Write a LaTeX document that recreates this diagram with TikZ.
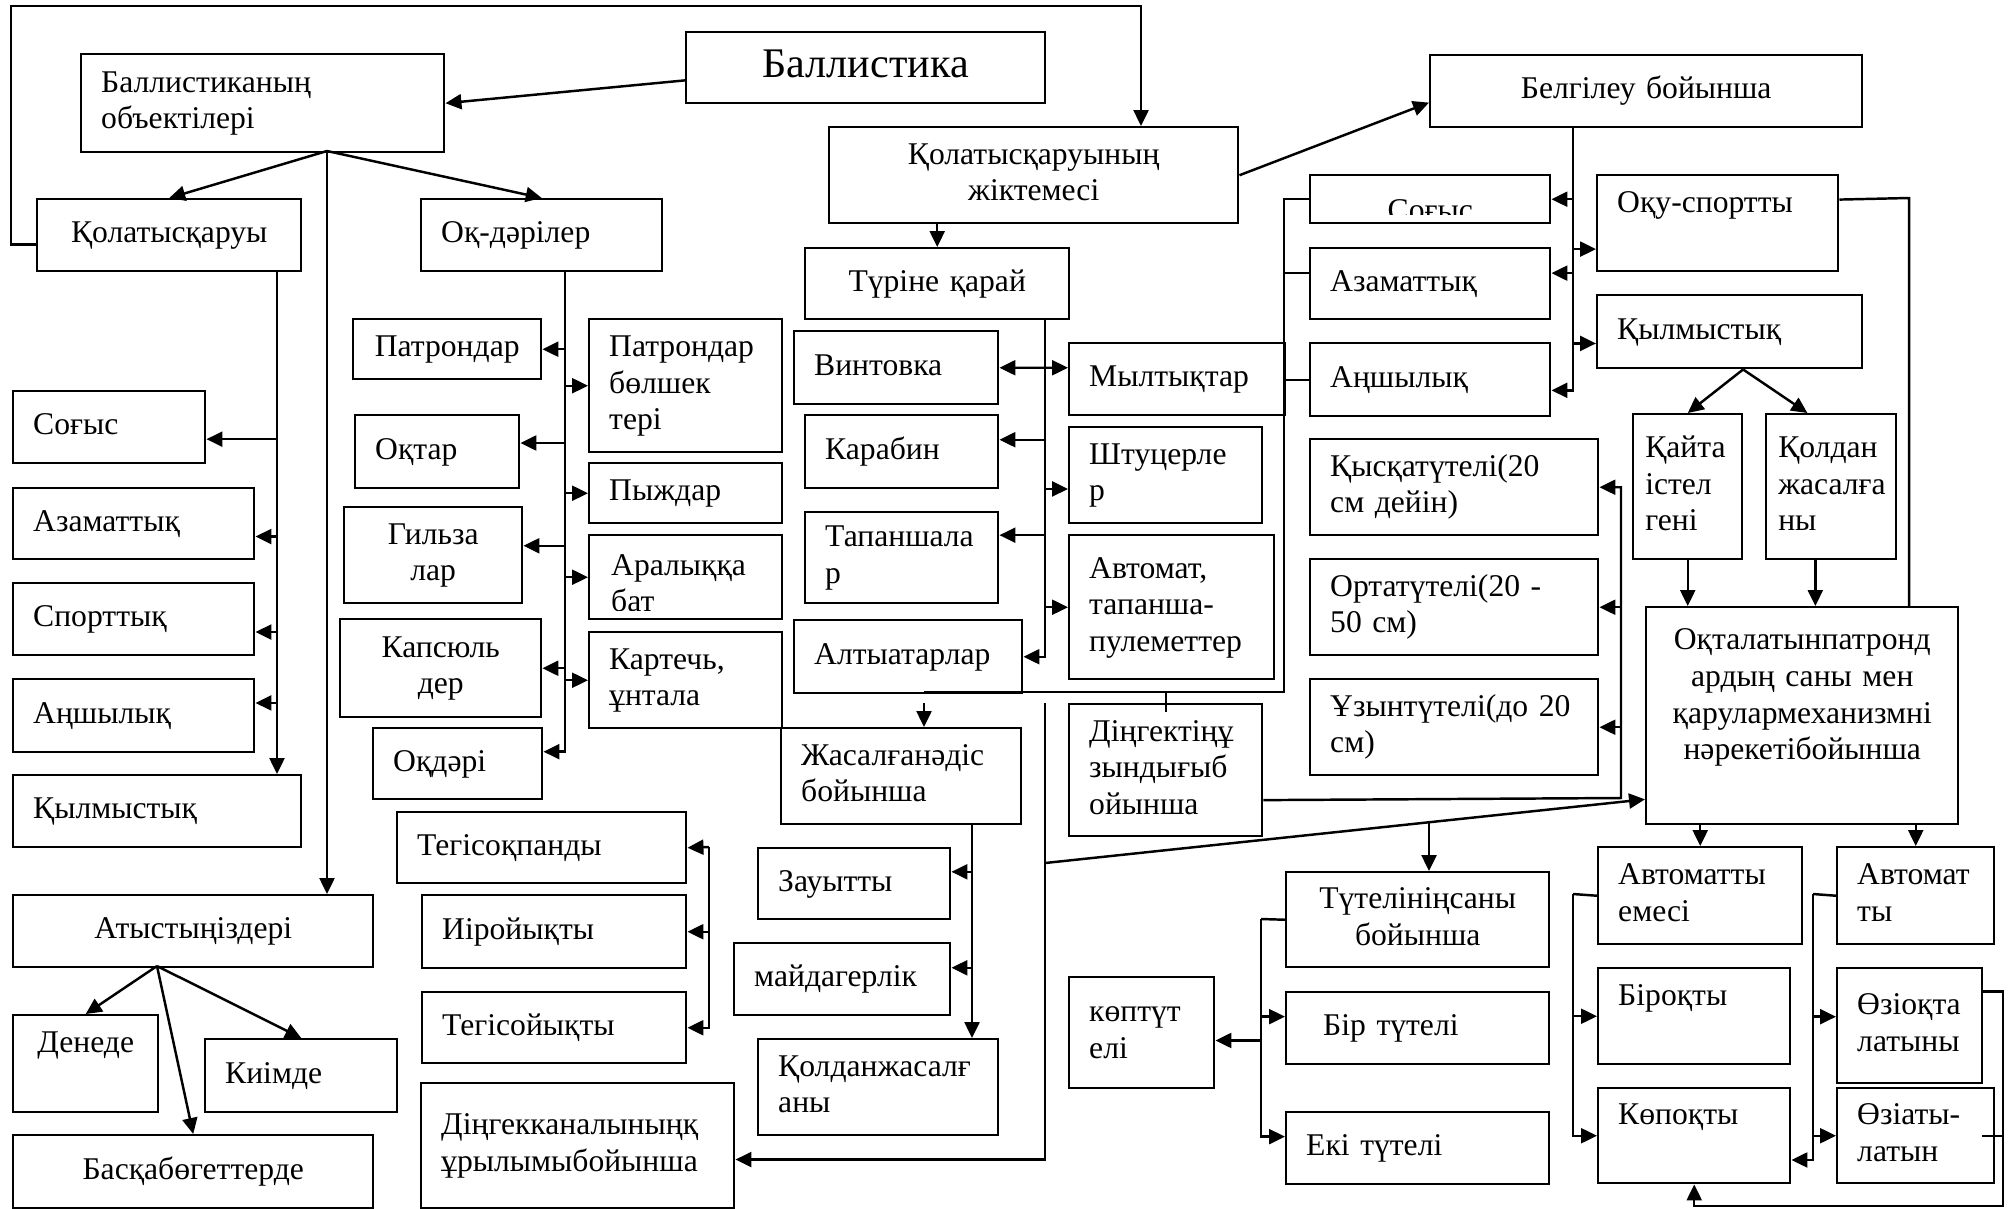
\documentclass[tikz,border=0pt]{standalone}
\usepackage{fontspec}
\setmainfont{Liberation Serif}
\usetikzlibrary{arrows.meta,calc}
\hyphenpenalty=10000
\exhyphenpenalty=10000

\begin{document}
\begin{tikzpicture}[x=0.02cm, y=-0.02cm, line width=1.4pt,
  every node/.style = {font=\fontsize{18}{20.8}\selectfont},
  bx/.style 2 args = {draw, anchor=north west, inner xsep=0.4cm, inner ysep=0pt,
    minimum width=#1*0.02cm, minimum height=#2*0.02cm, text width=#1*0.02cm-0.8cm,
    align=left, execute at begin node=\strut, execute at end node=\strut},
  arr/.style = {-{Triangle[length=0.32cm, width=0.3cm]}},
  darr/.style = {{Triangle[length=0.32cm, width=0.3cm]}-{Triangle[length=0.32cm, width=0.3cm]}}]
  \useasboundingbox (0,0) rectangle (2015,1208);

  % left part
  \node[bx={359}{71}, align=center, font=\fontsize{24}{28}\selectfont] (bal) at (685,31) {Баллистика};
  \node[bx={363}{98}] (obj) at (80,53) {Баллистиканың\\объектілері};
  \node[bx={264}{72}, align=center] (qa) at (36,198) {Қолатысқаруы};
  \node[bx={241}{72}] (oqd) at (420,198) {Оқ-дәрілер};
  \node[bx={192}{72}] (sog1) at (12,390) {Соғыс};
  \node[bx={241}{71}] (aza1) at (12,487) {Азаматтық};
  \node[bx={241}{72}] (spo1) at (12,582) {Спорттық};
  \node[bx={241}{73}] (anh1) at (12,678) {Аңшылық};
  \node[bx={288}{72}] (kyl1) at (12,774) {Қылмыстық};
  \node[bx={360}{72}, align=center] (atys) at (12,894) {Атыстыңіздері};
  \node[bx={145}{97}, align=center] (dene) at (12,1014) {Денеде\\\mbox{}};
  \node[bx={192}{73}] (kiim) at (204,1038) {Киімде};
  \node[bx={360}{73}, align=center] (bask) at (12,1134) {Басқабөгеттерде};

  \node[bx={188}{60}, align=center] (patr) at (352,318) {Патрондар};
  \node[bx={193}{133}] (pbol) at (588,318) {Патрондар\\бөлшек\\тері};
  \node[bx={164}{73}] (oqt) at (354,414) {Оқтар};
  \node[bx={193}{60}] (pyzh) at (588,462) {Пыждар};
  \node[bx={178}{96}, align=center] (gil) at (343,506) {Гильза\\лар};
  \node[bx={193}{84}] (arb) at (588,534) {};
  \begin{scope}
    \clip (arb.north west) rectangle ([yshift=0.2cm]arb.south east);
    \node[anchor=base west, inner sep=0pt, text width=3cm, align=left] (arbt)
      at ([xshift=0.44cm, yshift=-0.82cm]arb.north west) {Аралыққа\\бат};
  \end{scope}
  \node[bx={201}{98}, align=center] (kap) at (339,618) {Капсюль\\дер};
  \node[bx={193}{96}] (kart) at (588,631) {Картечь,\\ұнтала};
  \node[bx={169}{71}] (oqdari) at (372,727) {Оқдәрі};

  % middle part
  \node[bx={409}{96}, align=center] (zhik) at (828,126) {Қолатысқаруының\\жіктемесі};
  \node[bx={264}{71}, align=center] (tur) at (804,247) {Түріне қарай};
  \node[bx={204}{73}] (vin) at (793,330) {Винтовка};
  \node[bx={193}{73}] (kar) at (804,414) {Карабин};
  \node[bx={193}{91}] (tap) at (804,511) {Тапаншала\\р};
  \node[bx={228}{73}] (alt) at (793,619) {Алтыатарлар};
  \node[bx={216}{72}] (myl) at (1068,342) {Мылтықтар};
  \node[bx={193}{96}] (sht) at (1068,426) {Штуцерле\\р};
  \node[bx={205}{144}] (avt) at (1068,534) {Автомат,\\тапанша-\\пулеметтер};
  \node[bx={193}{132}] (din) at (1068,703) {Діңгектіңұ\\зындығыб\\ойынша};
  \node[bx={240}{96}] (zhas) at (780,727) {Жасалғанәдіс\\бойынша};
  \node[bx={192}{71}] (zau) at (757,847) {Зауытты};
  \node[bx={216}{72}] (may) at (733,942) {майдагерлік};
  \node[bx={240}{96}] (qolzh) at (757,1038) {Қолданжасалғ\\аны};
  \node[bx={289}{71}] (tegq) at (396,811) {Тегісоқпанды};
  \node[bx={264}{73}] (iir) at (421,894) {Иіройықты};
  \node[bx={264}{71}] (tego) at (421,991) {Тегісойықты};
  \node[bx={313}{125}] (kan) at (420,1082) {Діңгекканалыныңқ\\ұрылымыбойынша};

  % right part
  \node[bx={432}{72}, align=center] (belg) at (1429,54) {Белгілеу бойынша};
  \node[bx={240}{48}] (sog2) at (1309,174) {};
  \begin{scope}
    \clip (sog2.north west) rectangle ([yshift=0.2cm]sog2.south east);
    \node[anchor=base, inner sep=0pt] (sogt) at ([yshift=-0.92cm]sog2.north) {Соғыс};
  \end{scope}
  \node[bx={240}{71}] (aza2) at (1309,247) {Азаматтық};
  \node[bx={240}{73}] (anh2) at (1309,342) {Аңшылық};
  \node[bx={241}{96}] (oqu) at (1596,174) {Оқу-спортты\\\mbox{}};
  \node[bx={265}{73}] (kyl2) at (1596,294) {Қылмыстық};
  \node[bx={109}{145}, inner xsep=0.24cm, text width=1.7cm] (kait) at (1632,413) {Қайта\\істел\\гені};
  \node[bx={130}{145}, inner xsep=0.24cm, text width=2.12cm] (qold) at (1765,413) {Қолдан\\жасалға\\ны};
  \node[bx={288}{96}] (qys) at (1309,438) {Қысқатүтелі(20\\см дейін)};
  \node[bx={288}{96}] (ort) at (1309,558) {Ортатүтелі(20 -\\50 см)};
  \node[bx={288}{96}] (uzyn) at (1309,678) {Ұзынтүтелі(до 20\\см)};
  \node[bx={312}{217}, align=center] (oqtal) at (1645,606)
    {Оқталатынпатронд\\ардың саны мен\\қарулармеханизмні\\нәрекетібойынша\\\mbox{}};
  \node[bx={263}{95}, align=center] (tut) at (1285,871) {Түтелініңсаны\\бойынша};
  \node[bx={263}{72}] (bir) at (1285,991) {\hspace*{0.34cm}Бір түтелі};
  \node[bx={263}{72}] (eki) at (1285,1111) {Екі түтелі};
  \node[bx={145}{111}] (kop) at (1068,976) {көптүт\\елі};
  \node[bx={204}{97}] (aem) at (1597,846) {Автоматты\\емесі};
  \node[bx={157}{97}] (avty) at (1836,846) {Автомат\\ты};
  \node[bx={192}{96}] (birq) at (1597,967) {Біроқты\\\mbox{}};
  \node[bx={192}{95}] (kopq) at (1597,1087) {Көпоқты\\\mbox{}};
  \node[bx={145}{115}] (ozoq) at (1836,967) {Өзіоқта\\латыны};
  \node[bx={157}{95}] (ozat) at (1836,1087) {Өзіаты-\\латын};

  % joints
  \coordinate (fr1) at (11,6);
  \coordinate (fr2) at (1141,6);
  \coordinate (ob) at (327,151);
  \coordinate (qt) at (277,270);
  \coordinate (ot) at (565,270);
  \coordinate (ah) at (157,966);
  \coordinate (tt) at (1045,318);
  \coordinate (mt) at (1284,692);
  \coordinate (mz) at (924,692);
  \coordinate (jt) at (972,823);
  \coordinate (dx) at (1621,798);
  \coordinate (ks) at (1045,703);
  \coordinate (sl) at (1045,863);
  \coordinate (tg) at (709,847);
  \coordinate (bt) at (1573,126);
  \coordinate (oqr) at (1909,198);
  \coordinate (tb) at (1261,919);
  \coordinate (ab) at (1573,894);
  \coordinate (vb) at (1813,894);
  \coordinate (lr) at (2003,1206);

  \draw[arr] (qa.184) -| (fr1) -| (fr2 |- zhik.north);
  \draw[arr] (bal.184) -- (obj.east);
  \draw[arr] (ob) -- (qa.north);
  \draw[arr] (ob) -- (oqd.north);
  \draw[arr] (ob) -- (ob |- atys.north);

  \draw[arr] (qt) -- (qt |- kyl1.north);
  \draw[arr] (qt |- sog1.353) -- (sog1.353);
  \draw[arr] (qt |- aza1.354) -- (aza1.354);
  \draw[arr] (qt |- spo1.354) -- (spo1.354);
  \draw[arr] (qt |- anh1.6) -- (anh1.6);

  \draw[arr] (ah) -- (dene.north);
  \draw[arr] (ah) -- (kiim.north);
  \draw[arr] (ah) -- (bask.north);

  \draw[arr] (ot) |- (oqdari.8);
  \draw[arr] (ot |- patr.east) -- (patr.east);
  \draw[arr] (ot |- oqt.6) -- (oqt.6);
  \draw[arr] (ot |- gil.6) -- (gil.6);
  \draw[arr] (ot |- kap.east) -- (kap.east);
  \draw[arr] (ot |- pbol.west) -- (pbol.west);
  \draw[arr] (ot |- pyzh.west) -- (pyzh.west);
  \draw[arr] (ot |- arb.west) -- (arb.west);
  \draw[arr] (ot |- kart.west) -- (kart.west);

  \draw[arr] (tur.north |- zhik.south) -- (tur.north);
  \draw[arr] (zhik.east) -- (belg.183);

  \draw[arr] (tt) |- (alt.east);
  \draw[arr] (tt |- kar.7) -- (kar.7);
  \draw[arr] (tt |- tap.13) -- (tap.13);
  \draw[arr] (tt |- sht.188) -- (sht.188);
  \draw[arr] (tt |- avt.west) -- (avt.west);
  \draw[darr] (vin.east) -- (myl.174);

  \draw (sog2.west) -| (mt) -- (mz);
  \draw (mt |- aza2.175) -- (aza2.175);
  \draw (mt |- anh2.west) -- (anh2.west);
  \draw (din.north |- mt) -- ([yshift=-0.18cm]din.north);
  \draw[arr] ([yshift=-0.22cm]mz) -- (mz |- zhas.north);

  \draw[arr] (jt) -- (jt |- qolzh.north);
  \draw[arr] (jt |- zau.7) -- (zau.7);
  \draw[arr] (jt |- may.6) -- (may.6);

  \draw[arr] (tg) -- (tegq.east);
  \draw[arr] (tg |- iir.east) -- (iir.east);
  \draw[arr] (tg) |- (tego.east);

  \draw[arr] (din.343) -- (dx) |- (qys.east);
  \draw[arr] (dx |- ort.east) -- (ort.east);
  \draw[arr] (dx |- uzyn.east) -- (uzyn.east);

  \draw[arr] (ks) |- (kan.355);
  \draw[arr] (sl) -- (oqtal.208);
  \coordinate (st) at ($(sl)!0.64!(oqtal.208)$);
  \draw[arr] (st) -- (st |- tut.north);

  \draw[arr] (bt) |- (anh2.355);
  \draw[arr] (bt |- sog2.east) -- (sog2.east);
  \draw[arr] (bt |- aza2.5) -- (aza2.5);
  \draw[arr] (bt |- oqu.192) -- (oqu.192);
  \draw[arr] (bt |- kyl2.185) -- (kyl2.185);
  \draw (oqu.11) -- (oqr) -- (oqr |- oqtal.north);

  \coordinate (ky) at ($(kyl2.south west)!0.55!(kyl2.south east)$);
  \draw[arr] (ky) -- (kait.north);
  \draw[arr] (ky) -- ($(qold.north west)!0.32!(qold.north east)$);
  \draw[arr] (kait.south) -- (kait.south |- oqtal.north);
  \coordinate (qs) at ($(qold.south west)!0.38!(qold.south east)$);
  \draw[arr] (qs) -- (qs |- oqtal.north);

  \draw[arr] (aem.north |- oqtal.south) -- (aem.north);
  \draw[arr] (avty.north |- oqtal.south) -- (avty.north);

  \draw (tut.west) -- (tb);
  \draw[arr] (tb) |- (eki.175);
  \draw[arr] (tb |- bir.175) -- (bir.175);
  \draw[arr] (tb |- kop.354) -- (kop.354);

  \draw (aem.west) -- (ab);
  \draw[arr] (ab) |- (kopq.west);
  \draw[arr] (ab |- birq.west) -- (birq.west);

  \draw (avty.west) -- (vb);
  \draw[arr] (vb) |- (kopq.346);
  \draw[arr] (vb |- ozoq.173) -- (ozoq.173);
  \draw[arr] (vb |- ozat.west) -- (ozat.west);

  \draw[arr] (ozoq.25) -| (lr) -| (kopq.south);
  \draw ([xshift=-0.26cm]ozat.east) -- (ozat.east -| lr);
\end{tikzpicture}
\end{document}
